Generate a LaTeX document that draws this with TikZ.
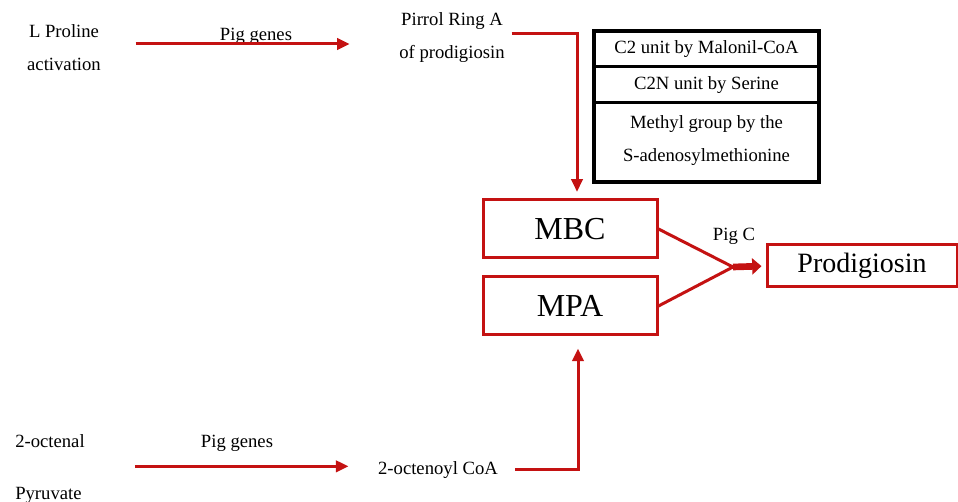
\documentclass[tikz,border=0pt]{standalone}
\usepackage{fontspec}
\setmainfont{Liberation Serif}
\usetikzlibrary{arrows.meta,positioning}
\definecolor{pigred}{RGB}{196,18,18}
\tikzset{
  txt/.style={inner sep=0pt, align=center, font=\fontsize{14}{24.75}\selectfont},
  flow/.style={pigred, line width=2.25pt, -{Triangle[length=9.5pt,width=8.5pt]}},
  redbox/.style={draw=pigred, line width=2.25pt, minimum width=130.5pt, minimum height=43.5pt, inner sep=0pt, font=\fontsize{24}{28}\selectfont},
  tabrow/.style={draw=black, line width=2.25pt, minimum width=168.75pt, inner sep=0pt, outer sep=0pt, align=center, font=\fontsize{14}{24.75}\selectfont},
}
\begin{document}
\begin{tikzpicture}[x=0.75pt,y=-0.75pt]
    \useasboundingbox (0,0) rectangle (958,502);

    % upper pathway
    \node[txt] (proline) at (64,48) {L Proline\\activation};
    \node[txt] (pirrol) at (452,38) {Pirrol Ring A\\of prodigiosin};
    \node[txt] (piga) at (256,36) {Pig genes};
    \draw[flow, shorten <=26pt, shorten >=37pt] ([yshift=3pt]proline.east) -- ([yshift=3pt]proline.east -| pirrol.west);

    % lower pathway
    \node[txt, anchor=west, align=left] (octenal) at (15,469) {2-octenal\\[14.25pt]Pyruvate};
    \node[txt] (octenoyl) at (438,470) {2-octenoyl CoA};
    \node[txt] (pigb) at (237,443) {Pig genes};
    \draw[flow, shorten <=37.5pt, shorten >=22pt] ([yshift=2pt]octenal.east) -- ([yshift=2pt]octenal.east -| octenoyl.west);

    % precursors
    \node[redbox] (mbc) at (570,229) {MBC};
    \node[redbox] (mpa) at (570,306) {MPA};
    \node[redbox, minimum width=142.5pt, minimum height=31.5pt, font=\fontsize{21}{25}\selectfont] (prod) at (862,266) {Prodigiosin};

    \draw[flow, shorten <=5pt, shorten >=5pt] ([yshift=3pt]pirrol.east) -| ([xshift=5.25pt]mbc.north);
    \draw[flow, shorten <=13pt, shorten >=9pt] (octenoyl.east) -| ([xshift=6pt]mpa.south);

    % table of units
    \node[tabrow, minimum height=27pt] (unita) at (706.5,49) {C2 unit by Malonil-CoA};
    \node[tabrow, minimum height=27pt, below=0pt of unita] (unitb) {C2N unit by Serine};
    \node[tabrow, minimum height=59.25pt, below=0pt of unitb] (unitc) {Methyl group by the\\S-adenosylmethionine\\[-19pt]};
    \draw[line width=3pt] (unita.north west) rectangle (unitc.south east);

    % condensation
    \coordinate (join) at (733,267);
    \node[txt] (pigc) at (734,236) {Pig C};
    \draw[pigred, line width=2.25pt] (mbc.east) -- (join) -- (mpa.east);
    \draw[pigred, line width=5pt, -{Triangle[length=7pt,width=12pt]}, shorten >=3pt] (join) -- (prod.west);

\end{tikzpicture}
\end{document}
